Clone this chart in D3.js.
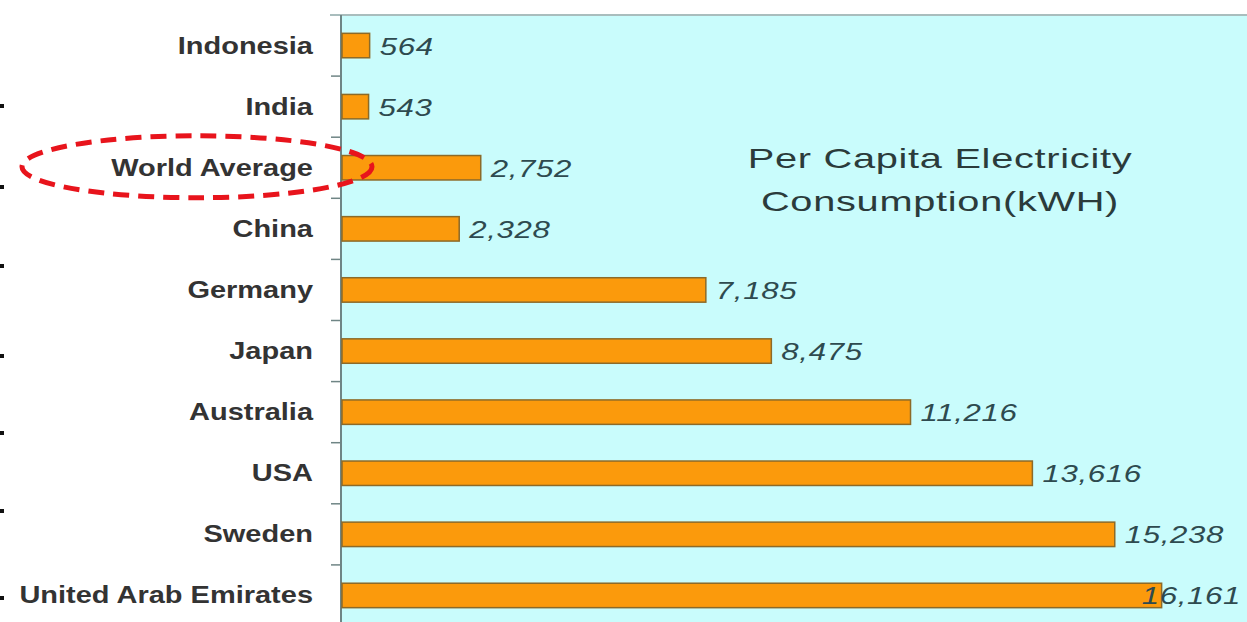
<!DOCTYPE html>
<html>
<meta charset="utf-8">
<head>
    <script src="https://d3js.org/d3.v7.min.js"></script>
</head>

<style>
  body { margin: 0; background: #fff; }
  svg text { font-family: "Liberation Sans", Arial, sans-serif; }
  svg .cat-label { fill: #333; font-size: 23px; font-weight: bold; text-anchor: end; }
  svg .val-label { fill: #2e4a4f; font-size: 24px; font-style: italic; letter-spacing: 0.5px; }
  svg .title { fill: #2b3b3b; font-size: 28px; letter-spacing: 0.5px; text-anchor: middle; }
</style>

<body>
<script>

    var categories = ["Indonesia", "India", "World Average", "China", "Germany",
                      "Japan", "Australia", "USA", "Sweden", "United Arab Emirates"];
    var values = [564, 543, 2752, 2328, 7185, 8475, 11216, 13616, 15238, 16161];
    var titleLines = ["Per Capita Electricity", "Consumption(kWH)"];
    // stray bullet marks at the left edge of the original slide
    var bulletY = [106, 187, 266, 356, 433, 511, 598];

    var width = 1247,
        height = 622,
        plotLeft = 341,
        plotTop = 15;

    var svg = d3.select("body").append("svg")
        .attr("width", width)
        .attr("height", height);

    var x = d3.scaleLinear()
        .domain([0, 18000])
        .range([plotLeft, plotLeft + 914]);

    var y = d3.scaleBand()
        .domain(categories)
        .range([plotTop, plotTop + 611])
        .paddingInner(0.6)
        .paddingOuter(0.3);

    // plot background
    svg.append("rect")
        .attr("x", plotLeft)
        .attr("y", plotTop)
        .attr("width", width - plotLeft)
        .attr("height", height - plotTop)
        .attr("fill", "#c9fcfc");

    svg.append("line")
        .attr("x1", 330).attr("x2", width)
        .attr("y1", plotTop).attr("y2", plotTop)
        .attr("stroke", "#a9bdbd").attr("stroke-width", 2);

    // ticks between categories
    var step = y.step();
    var bounds = categories.map(function(d) { return y(d) - step * y.paddingInner() / 2; });
    svg.selectAll(".tick")
        .data(bounds.slice(1))
        .enter().append("line")
        .attr("x1", plotLeft - 10).attr("x2", plotLeft)
        .attr("y1", function(d) { return d; })
        .attr("y2", function(d) { return d; })
        .attr("stroke", "#6f8585").attr("stroke-width", 1.5);

    svg.append("line")
        .attr("x1", plotLeft).attr("x2", plotLeft)
        .attr("y1", plotTop).attr("y2", height)
        .attr("stroke", "#6f8585").attr("stroke-width", 2);

    var data = categories.map(function(c, i) { return {cat: c, val: values[i]}; });

    svg.selectAll(".bar")
        .data(data)
        .enter().append("rect")
        .attr("class", "bar")
        .attr("x", x(0) + 1)
        .attr("y", function(d) { return y(d.cat); })
        .attr("width", function(d) { return x(d.val) - x(0) - 1; })
        .attr("height", y.bandwidth())
        .attr("fill", "#fb9a0c")
        .attr("stroke", "#8c6a28")
        .attr("stroke-width", 1.5);

    svg.selectAll(".cat-label")
        .data(data)
        .enter().append("text")
        .attr("class", "cat-label")
        .attr("transform", function(d) {
            return "translate(313," + (y(d.cat) + y.bandwidth() / 2 + 8) + ") scale(1.26,1)";
        })
        .text(function(d) { return d.cat; });

    var fmt = d3.format(",");
    var vals = svg.selectAll(".val-label")
        .data(data)
        .enter().append("text")
        .attr("class", "val-label")
        .text(function(d) { return fmt(d.val); });

    vals.attr("transform", function(d) {
        var w = this.getComputedTextLength() * 1.3;
        var sx = Math.min(x(d.val) + 10, width - 6 - w);
        return "translate(" + sx + "," + (y(d.cat) + y.bandwidth() / 2 + 9) + ") scale(1.3,1)";
    });

    svg.selectAll(".title")
        .data(titleLines)
        .enter().append("text")
        .attr("class", "title")
        .attr("transform", function(d, i) { return "translate(940," + (168 + i * 43) + ") scale(1.42,1)"; })
        .text(function(d) { return d; });

    // red dashed ellipse around World Average
    svg.append("ellipse")
        .attr("cx", 197)
        .attr("cy", y("World Average") + y.bandwidth() / 2 - 1)
        .attr("rx", 175)
        .attr("ry", 31)
        .attr("fill", "none")
        .attr("stroke", "#e8141c")
        .attr("stroke-width", 5)
        .attr("stroke-dasharray", "16,9");

    svg.selectAll(".bullet")
        .data(bulletY)
        .enter().append("rect")
        .attr("x", 0)
        .attr("y", function(d) { return d - 2; })
        .attr("width", 4)
        .attr("height", 4)
        .attr("fill", "#111");

</script>
</body>
</html>
